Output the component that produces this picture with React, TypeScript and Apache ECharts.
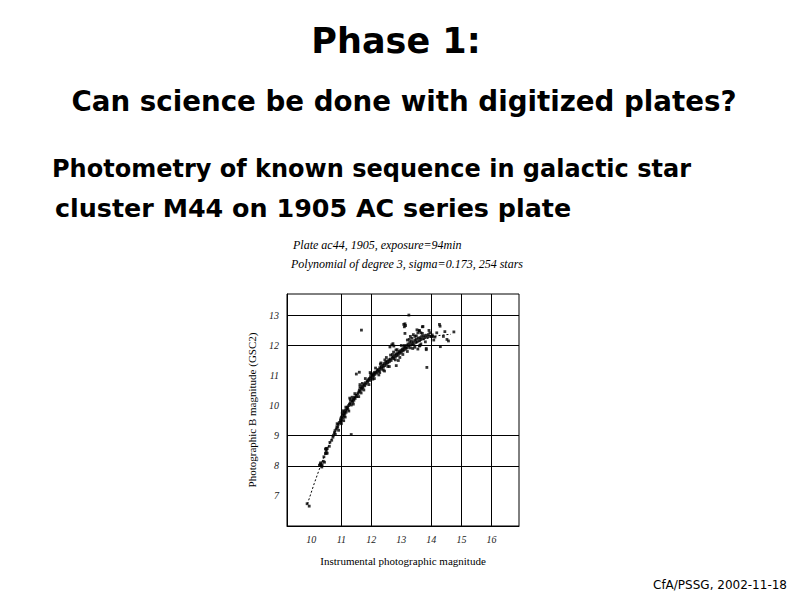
import React, { useEffect, useRef } from "react";
import * as echarts from "echarts";

const titleMain = "Phase 1:";
const titleSub = "Can science be done with digitized plates?";
const bodyLine1 = "Photometry of known sequence in galactic star";
const bodyLine2 = "cluster M44 on 1905 AC series plate";
const plotNote1 = "Plate ac44, 1905, exposure=94min";
const plotNote2 = "Polynomial of degree 3, sigma=0.173, 254 stars";
const footer = "CfA/PSSG, 2002-11-18";
const xName = "Instrumental photographic magnitude";
const yName = "Photographic B magnitude (GSC2)";

const xTickLabels = [10, 11, 12, 13, 14, 15, 16];
const yTickLabels = [7, 8, 9, 10, 11, 12, 13];
const xGridLines = [11, 12, 14, 15, 16];
const yGridLines = [8, 9, 12, 13];

const stars: number[][] = [
  [9.86, 6.74], [9.93, 6.66],
  [10.27, 8.02], [10.3, 8.06], [10.33, 8.0], [10.31, 8.1], [10.36, 8.04], [10.4, 8.15], [10.35, 7.96], [10.44, 8.12],
  [10.47, 8.56], [10.5, 8.58], [10.53, 8.57], [10.5, 8.5], [10.47, 8.42], [10.5, 8.41], [10.53, 8.42], [10.6, 8.65], [10.42, 8.3],
  [10.68, 8.85], [10.72, 8.95], [10.74, 9.02], [10.77, 9.1], [10.79, 9.17], [10.83, 9.22], [10.85, 9.3], [10.88, 9.28],
  [10.9, 9.38], [11.33, 9.04], [10.91, 9.18], [10.93, 9.44], [10.97, 9.5],
  [10.98, 9.56], [11.0, 9.62], [11.02, 9.52], [11.04, 9.68], [11.06, 9.6], [11.08, 9.72], [11.1, 9.66], [11.1, 9.8],
  [11.12, 9.74], [11.14, 9.85], [11.16, 9.78], [11.18, 9.9], [11.03, 9.75], [11.06, 9.83], [10.99, 9.45], [11.13, 9.62],
  [11.2, 9.95], [11.22, 9.88], [11.24, 10.0],
  [11.27, 10.05], [11.3, 10.1], [11.33, 10.02], [11.35, 10.16], [11.38, 10.12], [11.4, 10.22], [11.42, 10.18], [11.44, 10.28],
  [11.46, 10.24], [11.49, 10.34], [11.52, 10.3], [11.55, 10.4], [11.3, 10.2], [11.36, 10.28],
  [11.5, 11.05], [11.6, 11.11],
  [11.58, 10.45], [11.6, 10.52], [11.63, 10.48], [11.65, 10.58], [11.68, 10.55], [11.7, 10.64], [11.72, 10.6], [11.75, 10.7],
  [11.78, 10.66], [11.8, 10.76], [11.83, 10.72], [11.86, 10.82], [11.88, 10.78], [11.9, 10.86], [11.62, 10.62], [11.7, 10.74], [11.66, 10.42],
  [11.93, 10.9], [11.95, 10.84], [11.97, 10.96], [12.0, 10.92], [12.02, 11.02], [12.04, 10.97], [12.06, 11.06], [12.08, 11.0],
  [12.1, 11.1], [12.12, 11.04], [12.15, 11.12], [12.18, 11.08], [12.2, 11.16], [11.98, 11.05], [12.05, 10.88],
  [12.22, 11.2], [12.25, 11.14], [12.28, 11.26], [12.3, 11.2], [12.33, 11.3], [12.35, 11.24], [12.38, 11.34], [12.4, 11.28],
  [12.42, 11.4], [12.45, 11.33], [12.48, 11.44], [12.5, 11.38], [12.52, 11.48], [12.55, 11.42], [12.58, 11.52], [12.6, 11.46],
  [12.63, 11.55], [12.66, 11.5], [12.7, 11.58], [12.32, 11.42], [12.45, 11.52], [12.28, 11.1], [12.4, 11.18], [12.55, 11.3],
  [12.83, 11.33],
  [12.72, 11.62], [12.75, 11.56], [12.78, 11.68], [12.8, 11.62], [12.83, 11.72], [12.86, 11.66], [12.88, 11.76], [12.9, 11.7],
  [12.93, 11.8], [12.96, 11.74], [12.98, 11.84], [13.0, 11.78], [13.03, 11.88], [13.06, 11.82], [13.08, 11.92], [13.1, 11.86],
  [12.74, 11.78], [12.86, 11.86], [12.95, 11.6], [13.12, 11.96], [13.15, 11.9], [13.18, 12.0], [13.2, 11.92], [12.7, 11.7], [12.8, 11.52],
  [12.62, 11.95], [12.68, 12.02], [12.75, 11.98], [12.72, 12.06],
  [13.22, 12.05], [13.25, 11.98], [13.28, 12.1], [13.3, 12.02], [13.33, 12.14], [13.36, 12.06], [13.4, 12.12], [13.42, 12.02],
  [13.45, 12.18], [13.48, 12.1], [13.5, 12.2], [13.53, 12.12], [13.56, 12.24], [13.6, 12.16], [13.62, 12.26], [13.65, 12.2],
  [13.68, 12.3], [13.72, 12.22], [13.75, 12.32], [13.78, 12.26], [13.82, 12.34], [13.86, 12.28], [13.9, 12.36], [13.94, 12.3],
  [13.3, 11.92], [13.45, 11.94], [13.6, 11.98], [13.83, 11.9], [13.65, 12.05], [13.55, 11.88], [13.1, 12.0], [13.2, 12.18],
  [13.85, 11.27],
  [13.25, 13.01], [13.08, 12.7], [13.12, 12.72], [13.1, 12.62], [13.14, 12.66], [13.12, 12.4], [11.67, 12.51],
  [13.52, 12.52], [13.6, 12.48], [13.65, 12.42], [13.55, 12.42], [13.72, 12.63], [13.95, 12.42], [14.0, 12.3], [14.03, 12.35],
  [14.27, 12.7], [14.29, 12.64], [14.75, 12.45], [14.52, 12.2], [14.57, 12.15], [14.3, 11.96], [13.83, 11.86],
  [13.3, 12.3], [13.35, 12.24], [13.4, 12.36], [13.45, 12.3], [14.05, 12.3], [14.12, 12.28], [13.7, 12.62], [13.6, 12.5],
  [10.62, 8.78], [10.8, 9.05], [10.86, 9.4], [11.0, 9.4], [11.08, 9.5], [11.15, 9.95], [11.25, 9.82], [11.28, 10.25],
  [11.4, 10.05], [11.45, 10.4], [11.58, 10.3], [11.62, 10.7], [11.75, 10.52], [11.8, 10.9], [11.92, 10.7], [11.96, 11.1],
  [12.1, 10.9], [12.14, 11.25], [12.25, 11.02], [12.3, 11.38], [12.44, 11.15], [12.5, 11.6], [12.6, 11.3], [12.64, 11.68],
  [12.82, 11.85], [12.9, 11.5], [13.0, 12.0], [13.05, 11.7], [13.2, 11.8], [13.26, 12.2], [13.38, 11.9], [13.5, 12.32],
  [13.62, 12.0], [13.7, 12.4], [13.8, 12.12], [13.92, 12.5], [14.08, 12.18], [14.18, 12.42], [14.4, 12.3], [14.45, 12.46],
];

const fitCurve: number[][] = [
  [9.87, 6.73], [10.1, 7.42], [10.3, 7.98], [10.5, 8.5], [10.75, 9.05], [11.0, 9.55], [11.25, 9.98], [11.5, 10.36],
  [11.75, 10.7], [12.0, 10.99], [12.25, 11.24], [12.5, 11.46], [12.75, 11.66], [13.0, 11.83], [13.25, 11.98], [13.5, 12.1],
  [13.75, 12.2], [14.0, 12.28], [14.25, 12.33], [14.5, 12.36], [14.65, 12.37],
];

const SANS = "'Comic Sans MS', 'DejaVu Sans', sans-serif";
const SERIF = "'Liberation Serif', 'DejaVu Serif', serif";

export default function App() {
  const ref = useRef<HTMLDivElement>(null);
  useEffect(() => {
    if (!ref.current) return;
    const chart = echarts.init(ref.current, undefined, { renderer: "svg" });
    const txt = (text: string, x: number, y: number, size: number, align: string, family: string, weight = "normal", style = "normal") => ({
      type: "text",
      x,
      y,
      silent: true,
      style: { text, x: 0, y: 0, fill: "#000", fontSize: size, fontFamily: family, fontWeight: weight, fontStyle: style, align, verticalAlign: "middle" },
    });
    chart.setOption({
      animation: false,
      backgroundColor: "#fff",
      graphic: [
        txt(titleMain, 396, 41, 35, "center", SANS, "bold"),
        txt(titleSub, 404, 101, 27.7, "center", SANS, "bold"),
        txt(bodyLine1, 52, 169, 24, "left", SANS, "bold"),
        txt(bodyLine2, 55, 208, 25.4, "left", SANS, "bold"),
        txt(plotNote1, 293, 245, 12, "left", SERIF, "normal", "italic"),
        txt(plotNote2, 291, 264, 12, "left", SERIF, "normal", "italic"),
        txt(footer, 787, 585, 12, "right", SANS),
      ],
      grid: { left: 287, top: 294, width: 232, height: 232, show: true, borderColor: "#000", borderWidth: 1, backgroundColor: "transparent" },
      xAxis: {
        type: "value",
        min: 9.19,
        max: 16.92,
        axisLine: { show: true, onZero: false, lineStyle: { color: "#000", width: 1 } },
        axisTick: { show: false },
        splitLine: { show: false },
        axisLabel: { customValues: xTickLabels, fontFamily: SERIF, fontStyle: "italic", fontSize: 10, color: "#222", margin: 8 },
        name: xName,
        nameLocation: "middle",
        nameGap: 29,
        nameTextStyle: { fontFamily: SERIF, fontSize: 11, color: "#000" },
      },
      yAxis: {
        type: "value",
        min: 6,
        max: 13.71,
        axisLine: { show: true, onZero: false, lineStyle: { color: "#000", width: 1 } },
        axisTick: { show: false },
        splitLine: { show: false },
        axisLabel: { customValues: yTickLabels, fontFamily: SERIF, fontStyle: "italic", fontSize: 10, color: "#222", margin: 8 },
        name: yName,
        nameLocation: "middle",
        nameGap: 30,
        nameTextStyle: { fontFamily: SERIF, fontSize: 11, color: "#000" },
      },
      series: [
        {
          type: "line",
          data: fitCurve,
          showSymbol: false,
          symbol: "none",
          silent: true,
          lineStyle: { color: "#000", width: 1, type: [2, 2] },
          z: 2,
          markLine: {
            silent: true,
            symbol: "none",
            label: { show: false },
            lineStyle: { color: "#000", width: 1, type: "solid" },
            data: [...xGridLines.map((v) => ({ xAxis: v })), ...yGridLines.map((v) => ({ yAxis: v }))],
          },
        },
        {
          type: "scatter",
          data: stars,
          symbol: "rect",
          symbolSize: 2.8,
          itemStyle: { color: "#000" },
          silent: true,
          z: 3,
        },
      ],
    });
    return () => chart.dispose();
  }, []);
  return <div ref={ref} style={{ position: "fixed", left: 0, top: 0, width: 800, height: 600 }} />;
}
